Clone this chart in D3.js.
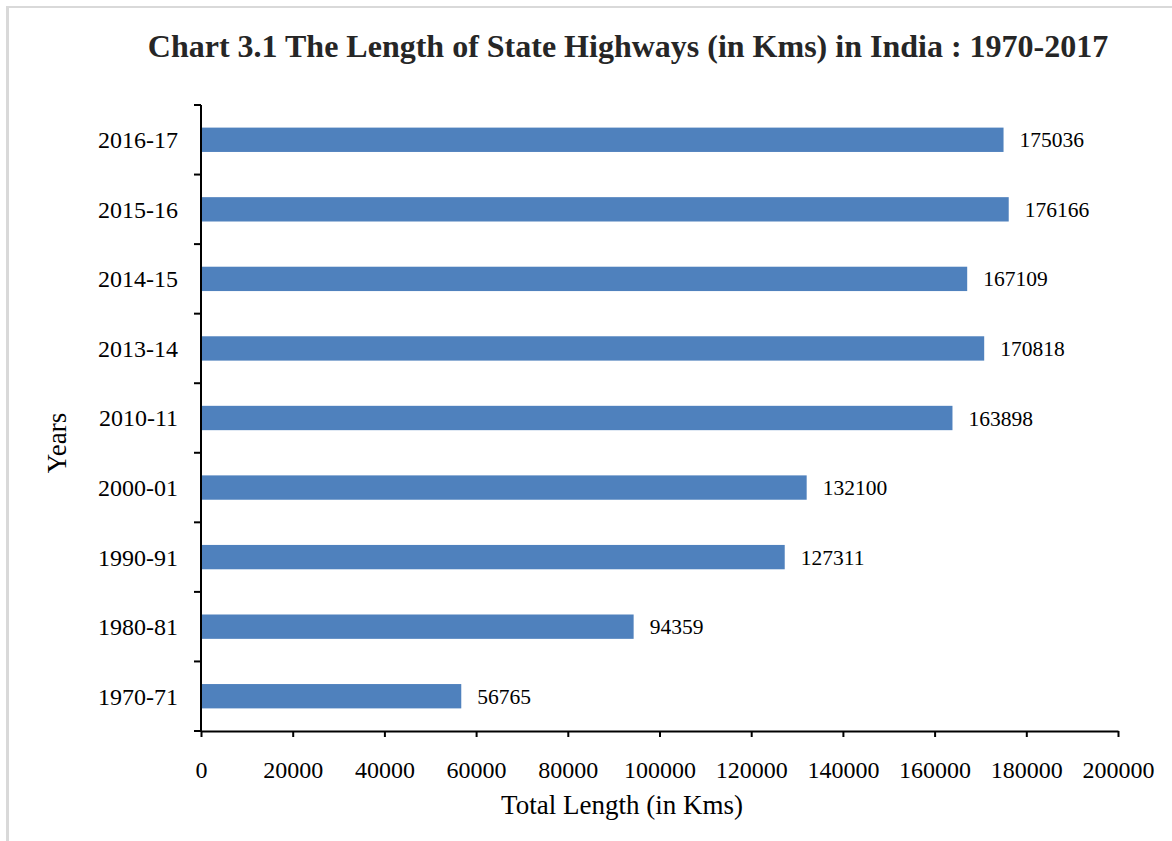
<!DOCTYPE html>
<html>
<head>
<meta charset="utf-8">
<script src="https://cdn.jsdelivr.net/npm/d3@7"></script>
<style>
  html, body { margin: 0; padding: 0; background: #fff; }
  svg { display: block; font-family: "Liberation Serif", "DejaVu Serif", serif; }
</style>
</head>
<body>
<svg id="chart" width="1172" height="841"></svg>
<script>
const categories = ["2016-17", "2015-16", "2014-15", "2013-14", "2010-11", "2000-01", "1990-91", "1980-81", "1970-71"];
const values = [175036, 176166, 167109, 170818, 163898, 132100, 127311, 94359, 56765];
const xTicks = [0, 20000, 40000, 60000, 80000, 100000, 120000, 140000, 160000, 180000, 200000];
const titleText = "Chart 3.1 The Length of State Highways (in Kms) in India : 1970-2017";
const xTitle = "Total Length (in Kms)";
const yTitle = "Years";

const svg = d3.select("#chart");
const plotLeft = 201, plotRight = 1118, plotTop = 105, plotBottom = 731;

// outer frame (light grey, top and left only)
svg.append("line").attr("x1", 6).attr("x2", 1172).attr("y1", 7).attr("y2", 7)
  .attr("stroke", "#d9d9d9").attr("stroke-width", 2);
svg.append("line").attr("x1", 7.5).attr("x2", 7.5).attr("y1", 6).attr("y2", 841)
  .attr("stroke", "#d9d9d9").attr("stroke-width", 3);

const x = d3.scaleLinear().domain([0, 200000]).range([plotLeft, plotRight]);
const y = d3.scaleBand().domain(categories).range([plotTop, plotBottom]).paddingInner(0.65).paddingOuter(0.325);

// bars
svg.append("g").selectAll("rect").data(categories).join("rect")
  .attr("x", x(0))
  .attr("y", d => y(d))
  .attr("width", (d, i) => x(values[i]) - x(0))
  .attr("height", y.bandwidth())
  .attr("fill", "#4f81bd");

// value labels
svg.append("g").selectAll("text").data(categories).join("text")
  .attr("x", (d, i) => x(values[i]) + 16)
  .attr("y", d => y(d) + y.bandwidth() / 2)
  .attr("dy", "0.35em")
  .attr("font-size", 21.5)
  .attr("fill", "#000")
  .text((d, i) => values[i]);

// x axis
const xAxis = d3.axisBottom(x).tickValues(xTicks).tickFormat(d3.format("d")).tickSize(6).tickPadding(24).tickSizeOuter(0);
const gx = svg.append("g").attr("transform", `translate(0,${plotBottom})`).call(xAxis);
gx.select(".domain").attr("stroke", "#000").attr("stroke-width", 2);
gx.selectAll(".tick line").attr("stroke", "#000").attr("stroke-width", 2);
gx.selectAll(".tick text").attr("font-size", 24).attr("font-family", "Liberation Serif, serif").attr("fill", "#000");

// y axis: line plus ticks at band boundaries
const gy = svg.append("g");
gy.append("line").attr("x1", plotLeft).attr("x2", plotLeft).attr("y1", plotTop).attr("y2", plotBottom)
  .attr("stroke", "#000").attr("stroke-width", 2);
const boundaries = categories.map(d => y(d) - y.step() * y.paddingInner() / 2).concat([plotBottom]);
gy.selectAll("line.bt").data(boundaries).join("line").attr("class", "bt")
  .attr("x1", plotLeft - 7).attr("x2", plotLeft).attr("y1", d => d).attr("y2", d => d)
  .attr("stroke", "#000").attr("stroke-width", 2);
gy.selectAll("text").data(categories).join("text")
  .attr("x", 178)
  .attr("y", d => y(d) + y.bandwidth() / 2)
  .attr("dy", "0.35em")
  .attr("text-anchor", "end")
  .attr("font-size", 24)
  .attr("fill", "#000")
  .text(d => d);

// titles
svg.append("text").attr("x", 628).attr("y", 57).attr("text-anchor", "middle")
  .attr("font-size", 32).attr("font-weight", "bold").attr("fill", "#262626")
  .text(titleText);
svg.append("text").attr("x", 622).attr("y", 814).attr("text-anchor", "middle")
  .attr("font-size", 27).attr("fill", "#000").text(xTitle);
svg.append("text").attr("transform", "translate(66,443) rotate(-90)").attr("text-anchor", "middle")
  .attr("font-size", 27).attr("fill", "#000").text(yTitle);
</script>
</body>
</html>
